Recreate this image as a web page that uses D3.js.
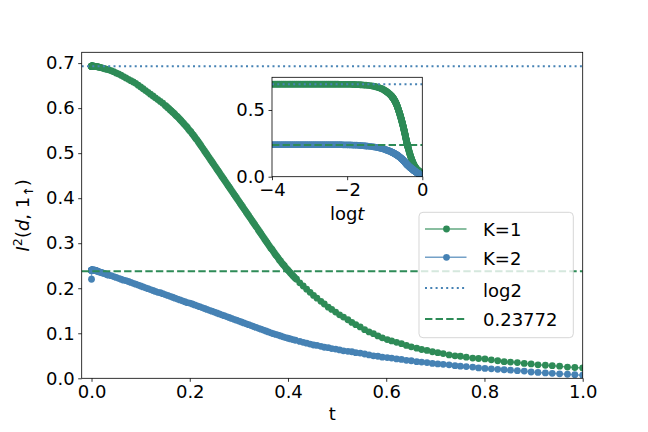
<!DOCTYPE html>
<html>
<head>
<meta charset="utf-8">
<script src="https://cdn.jsdelivr.net/npm/d3@7"></script>
<style>
body { margin: 0; background: #fff; }
svg { display: block; }
text { font-family: "DejaVu Sans", sans-serif; fill: #000; }
</style>
</head>
<body>
<div id="container"></div>
<script>
// early times (log spaced), shared by both series; t = 0 only shows in the main panel
const tHead = [
  0,
  0.0001, 0.000112, 0.000126, 0.000141, 0.000158, 0.000178, 0.0002, 0.000224, 0.000251, 0.000282,
  0.000316, 0.000355, 0.000398, 0.000447, 0.000501, 0.000562, 0.000631, 0.000708, 0.000794, 0.000891,
  0.001, 0.00112, 0.00126, 0.00141, 0.00158, 0.00178, 0.002, 0.00224, 0.00251, 0.00282,
  0.00316, 0.00355, 0.00398, 0.00447, 0.005, 0.00562, 0.00631, 0.00708, 0.00794, 0.00891,
  0.01, 0.0112, 0.0126, 0.0141, 0.0158, 0.0178, 0.02, 0.0224, 0.0251, 0.0282,
  0.0316
];
const k1Head = [
  0.693,
  0.693, 0.693, 0.693, 0.693, 0.693, 0.693, 0.693, 0.693, 0.693, 0.693,
  0.693, 0.693, 0.693, 0.693, 0.693, 0.693, 0.693, 0.693, 0.693, 0.693,
  0.693, 0.693, 0.693, 0.693, 0.693, 0.693, 0.693, 0.693, 0.693, 0.693,
  0.693, 0.693, 0.693, 0.693, 0.693, 0.693, 0.692, 0.692, 0.692, 0.692,
  0.692, 0.692, 0.692, 0.691, 0.691, 0.690, 0.690, 0.689, 0.688, 0.687,
  0.686
];
const k2Head = [
  0.220,
  0.240, 0.240, 0.240, 0.240, 0.240, 0.240, 0.240, 0.240, 0.240, 0.240,
  0.240, 0.240, 0.240, 0.240, 0.240, 0.240, 0.240, 0.240, 0.240, 0.240,
  0.240, 0.240, 0.240, 0.240, 0.240, 0.240, 0.240, 0.240, 0.240, 0.240,
  0.240, 0.240, 0.240, 0.240, 0.240, 0.240, 0.240, 0.240, 0.239, 0.239,
  0.239, 0.238, 0.238, 0.237, 0.236, 0.236, 0.235, 0.234, 0.233, 0.232,
  0.230
];

// K=1 middle section
const tK1Mid = [
  0.035, 0.040, 0.045, 0.050,
  0.055, 0.060, 0.065, 0.070, 0.075, 0.080, 0.085, 0.090, 0.095, 0.100,
  0.105, 0.110, 0.115, 0.120, 0.125, 0.130, 0.135, 0.140, 0.145, 0.150,
  0.1525, 0.155, 0.1575, 0.16, 0.1625, 0.165, 0.1675, 0.17,
  0.1725, 0.175, 0.1775, 0.18, 0.1825, 0.185, 0.1875, 0.19,
  0.1925, 0.195, 0.1975, 0.20, 0.2025, 0.205, 0.2075, 0.21,
  0.2125, 0.215, 0.2175, 0.22, 0.2225, 0.225, 0.2275, 0.23,
  0.2325, 0.235, 0.2375, 0.24, 0.2425, 0.245, 0.2475, 0.25,
  0.2525, 0.255, 0.2575, 0.26, 0.2625, 0.265, 0.2675, 0.27,
  0.2725, 0.275, 0.2775, 0.28, 0.2825, 0.285, 0.2875, 0.29,
  0.2925, 0.295, 0.2975, 0.30, 0.3025, 0.305, 0.3075, 0.31,
  0.3125, 0.315, 0.3175, 0.32, 0.3225, 0.325, 0.3275, 0.33,
  0.3325, 0.335, 0.3375, 0.34, 0.3425, 0.345, 0.3475, 0.35,
  0.3525, 0.355, 0.3575, 0.36, 0.3625, 0.365, 0.3675, 0.37,
  0.3725, 0.375, 0.3775, 0.38, 0.3825, 0.385, 0.3875, 0.39,
  0.3925, 0.395, 0.3975, 0.40, 0.4025, 0.405, 0.4075, 0.41,
  0.4125, 0.415, 0.4175
];
const k1Mid = [
  0.685, 0.683, 0.681, 0.678,
  0.676, 0.673, 0.670, 0.667, 0.664, 0.661, 0.658, 0.655, 0.651, 0.647,
  0.643, 0.639, 0.635, 0.631, 0.627, 0.623, 0.619, 0.615, 0.611, 0.606,
  0.604, 0.601, 0.599, 0.596, 0.594, 0.591, 0.589, 0.586,
  0.583, 0.581, 0.578, 0.575, 0.572, 0.569, 0.566, 0.563,
  0.560, 0.557, 0.553, 0.550, 0.547, 0.543, 0.540, 0.536,
  0.532, 0.529, 0.525, 0.521, 0.517, 0.513, 0.509, 0.505,
  0.501, 0.497, 0.493, 0.489, 0.485, 0.481, 0.477, 0.473,
  0.469, 0.465, 0.461, 0.457, 0.453, 0.449, 0.445, 0.441,
  0.437, 0.433, 0.429, 0.425, 0.421, 0.417, 0.413, 0.409,
  0.405, 0.401, 0.397, 0.393, 0.389, 0.385, 0.381, 0.377,
  0.373, 0.369, 0.365, 0.361, 0.357, 0.353, 0.349, 0.345,
  0.341, 0.337, 0.333, 0.329, 0.325, 0.321, 0.317, 0.313,
  0.309, 0.305, 0.301, 0.297, 0.293, 0.289, 0.286, 0.282,
  0.278, 0.274, 0.271, 0.267, 0.263, 0.260, 0.256, 0.253,
  0.250, 0.246, 0.243, 0.240, 0.237, 0.234, 0.231, 0.228,
  0.225, 0.222, 0.220
];

// K=2 middle section
const tK2Mid = [
  0.035, 0.040, 0.045, 0.050,
  0.055, 0.060, 0.065, 0.070, 0.075, 0.080, 0.085, 0.090, 0.095, 0.100,
  0.105, 0.110, 0.115, 0.120, 0.125, 0.130, 0.135, 0.140, 0.145, 0.150,
  0.155, 0.160, 0.165, 0.170, 0.175, 0.180, 0.185, 0.190, 0.195, 0.200,
  0.205, 0.210, 0.215, 0.220, 0.225, 0.230, 0.235, 0.240, 0.245, 0.250,
  0.255, 0.260, 0.265, 0.270, 0.275, 0.280, 0.285, 0.290, 0.295, 0.300,
  0.305, 0.310, 0.315, 0.320, 0.325, 0.330, 0.335, 0.340, 0.345, 0.350,
  0.355, 0.360, 0.365, 0.370, 0.375, 0.380, 0.385, 0.390, 0.395, 0.400,
  0.405, 0.410, 0.415
];
const k2Mid = [
  0.229, 0.228, 0.226, 0.224,
  0.222, 0.220, 0.218, 0.217, 0.215, 0.213, 0.211, 0.209, 0.207, 0.205,
  0.203, 0.201, 0.199, 0.197, 0.195, 0.193, 0.191, 0.190, 0.188, 0.186,
  0.184, 0.182, 0.180, 0.178, 0.176, 0.174, 0.172, 0.170, 0.168, 0.167,
  0.165, 0.163, 0.161, 0.159, 0.157, 0.155, 0.153, 0.151, 0.149, 0.147,
  0.145, 0.143, 0.141, 0.139, 0.137, 0.135, 0.133, 0.131, 0.129, 0.127,
  0.125, 0.123, 0.121, 0.119, 0.117, 0.115, 0.113, 0.111, 0.109, 0.107,
  0.105, 0.103, 0.101, 0.099, 0.0975, 0.096, 0.094, 0.092, 0.0905, 0.089,
  0.0875, 0.086, 0.0845
];

// late times (log spaced), shared
const tTail = [
  0.424, 0.431, 0.438, 0.445, 0.452, 0.459, 0.467, 0.474, 0.482, 0.489,
  0.497, 0.505, 0.513, 0.522, 0.530, 0.538, 0.547, 0.556, 0.565, 0.574,
  0.583, 0.592, 0.602, 0.611, 0.621, 0.631, 0.641, 0.651, 0.662, 0.672,
  0.683, 0.694, 0.705, 0.716, 0.728, 0.740, 0.751, 0.763, 0.776, 0.788,
  0.801, 0.814, 0.827, 0.840, 0.853, 0.867, 0.881, 0.895, 0.909, 0.924,
  0.938, 0.953, 0.969, 0.984, 1.000
];
const k1Tail = [
  0.212, 0.205, 0.198, 0.191, 0.184, 0.178, 0.171, 0.165, 0.158, 0.153,
  0.147, 0.141, 0.136, 0.130, 0.124, 0.119, 0.114, 0.108, 0.103, 0.099,
  0.094, 0.090, 0.086, 0.083, 0.080, 0.077, 0.073, 0.070, 0.067, 0.064,
  0.062, 0.059, 0.057, 0.055, 0.052, 0.050, 0.049, 0.047, 0.045, 0.044,
  0.043, 0.041, 0.039, 0.037, 0.036, 0.035, 0.033, 0.032, 0.030, 0.029,
  0.028, 0.027, 0.025, 0.024, 0.023
];
const k2Tail = [
  0.082, 0.080, 0.078, 0.076, 0.074, 0.073, 0.071, 0.069, 0.068, 0.066,
  0.065, 0.063, 0.061, 0.060, 0.059, 0.057, 0.056, 0.054, 0.052, 0.050,
  0.049, 0.047, 0.046, 0.045, 0.043, 0.042, 0.040, 0.039, 0.037, 0.036,
  0.035, 0.033, 0.032, 0.031, 0.030, 0.028, 0.027, 0.026, 0.025, 0.023,
  0.022, 0.021, 0.020, 0.019, 0.018, 0.017, 0.016, 0.014, 0.013, 0.012,
  0.011, 0.010, 0.009, 0.008, 0.007
];

const log2Level = 0.6931;
const refLevel = 0.23772;

const xTicks = [0, 0.2, 0.4, 0.6, 0.8, 1.0];
const yTicks = [0, 0.1, 0.2, 0.3, 0.4, 0.5, 0.6, 0.7];
const insetXTicks = [1e-4, 1e-2, 1];
const insetYTicks = [0, 0.5];
const legendLabels = ['K=1', 'K=2', 'log2', '0.23772'];

const tK1 = tHead.concat(tK1Mid, tTail);
const vK1 = k1Head.concat(k1Mid, k1Tail);
const tK2 = tHead.concat(tK2Mid, tTail);
const vK2 = k2Head.concat(k2Mid, k2Tail);

const green = '#2e8b57';
const blue = '#4682b4';
const markerR = 3.4;

const svg = d3.select('#container').append('svg')
  .attr('width', 648)
  .attr('height', 432);

let clipCount = 0;

function drawPanel(box, x, y, series, xt, yt, fmtX, fmtY, keep) {
  const g = svg.append('g');
  const id = 'clip' + (clipCount++);

  g.append('clipPath').attr('id', id)
    .append('rect')
    .attr('x', box.left).attr('y', box.top)
    .attr('width', box.right - box.left).attr('height', box.bottom - box.top);

  g.append('rect')
    .attr('x', box.left).attr('y', box.top)
    .attr('width', box.right - box.left).attr('height', box.bottom - box.top)
    .attr('fill', '#fff');

  const plot = g.append('g').attr('clip-path', `url(#${id})`);
  const line = d3.line().x(d => x(d[0])).y(d => y(d[1]));

  series.forEach(s => {
    const pts = d3.zip(s.t, s.v).filter(keep);
    plot.append('path')
      .datum(pts)
      .attr('d', line)
      .attr('fill', 'none')
      .attr('stroke', s.color)
      .attr('stroke-opacity', 0.75)
      .attr('stroke-width', 1.5);
    plot.append('g').selectAll('circle')
      .data(pts).enter()
      .append('circle')
      .attr('cx', d => x(d[0]))
      .attr('cy', d => y(d[1]))
      .attr('r', markerR)
      .attr('fill', s.color);
  });

  plot.append('line')
    .attr('x1', box.left).attr('x2', box.right)
    .attr('y1', y(log2Level)).attr('y2', y(log2Level))
    .attr('stroke', blue).attr('stroke-width', 2)
    .attr('stroke-dasharray', '2,3.3');
  plot.append('line')
    .attr('x1', box.left).attr('x2', box.right)
    .attr('y1', y(refLevel)).attr('y2', y(refLevel))
    .attr('stroke', green).attr('stroke-width', 2)
    .attr('stroke-dasharray', '7.4,3.2');

  const ax = g.append('g')
    .attr('transform', `translate(0,${box.bottom})`)
    .call(d3.axisBottom(x).tickValues(xt).tickFormat(fmtX)
      .tickSize(3.5).tickPadding(3.5).tickSizeOuter(0));
  const ay = g.append('g')
    .attr('transform', `translate(${box.left},0)`)
    .call(d3.axisLeft(y).tickValues(yt).tickFormat(fmtY)
      .tickSize(3.5).tickPadding(3.5).tickSizeOuter(0));

  [ax, ay].forEach(a => {
    a.select('.domain').remove();
    a.selectAll('line').attr('stroke', '#000').attr('stroke-width', 0.8);
    a.selectAll('text')
      .attr('font-size', 18)
      .attr('font-family', '"DejaVu Sans", sans-serif')
      .attr('fill', '#000');
  });

  g.append('rect')
    .attr('x', box.left).attr('y', box.top)
    .attr('width', box.right - box.left).attr('height', box.bottom - box.top)
    .attr('fill', 'none').attr('stroke', '#000').attr('stroke-width', 0.8);

  return g;
}

// main panel
const mainBox = { left: 81.7, right: 582.7, top: 52.3, bottom: 378.3 };
const x = d3.scaleLinear().domain([-0.02, 1.0]).range([mainBox.left, mainBox.right]);
const y = d3.scaleLinear().domain([0, 0.724]).range([mainBox.bottom, mainBox.top]);

drawPanel(mainBox, x, y, [
  { t: tK1, v: vK1, color: green },
  { t: tK2, v: vK2, color: blue }
], xTicks, yTicks, d3.format('.1f'), d3.format('.1f'), () => true);

svg.append('text')
  .attr('x', (mainBox.left + mainBox.right) / 2)
  .attr('y', 420)
  .attr('text-anchor', 'middle')
  .attr('font-size', 18)
  .text('t');

const yLab = svg.append('text')
  .attr('transform', `translate(29,${(mainBox.top + mainBox.bottom) / 2}) rotate(-90)`)
  .attr('text-anchor', 'middle')
  .attr('font-size', 18);
yLab.append('tspan').attr('font-style', 'italic').text('I');
yLab.append('tspan').attr('font-size', 12.6).attr('dy', -7).text('2');
yLab.append('tspan').attr('dy', 7).text('(');
yLab.append('tspan').attr('font-style', 'italic').text('d');
yLab.append('tspan').text(', 1');
yLab.append('tspan').attr('font-size', 12.6).attr('dy', 4).text('\u2191');
yLab.append('tspan').attr('dy', -4).text(')');

// legend
const legend = svg.append('g');
legend.append('rect')
  .attr('x', 419).attr('y', 212.3)
  .attr('width', 154.3).attr('height', 125.4)
  .attr('rx', 4)
  .attr('fill', '#fff').attr('fill-opacity', 0.8)
  .attr('stroke', '#cccccc').attr('stroke-opacity', 0.8);

const rowMid = [229, 257.3, 288, 319];
const rowBase = [236, 264.7, 296.7, 326.3];
const legendStyle = [
  { color: green, dash: null, marker: true },
  { color: blue, dash: null, marker: true },
  { color: blue, dash: '2,3.3', marker: false },
  { color: green, dash: '7.4,3.2', marker: false }
];

legendLabels.forEach((label, i) => {
  const st = legendStyle[i];
  legend.append('line')
    .attr('x1', 425).attr('x2', 466.5)
    .attr('y1', rowMid[i]).attr('y2', rowMid[i])
    .attr('stroke', st.color)
    .attr('stroke-width', st.marker ? 1.5 : 2)
    .attr('stroke-opacity', st.marker ? 0.75 : 1)
    .attr('stroke-dasharray', st.dash);
  if (st.marker) {
    legend.append('circle')
      .attr('cx', 446.5).attr('cy', rowMid[i])
      .attr('r', markerR).attr('fill', st.color);
  }
  legend.append('text')
    .attr('x', 483).attr('y', rowBase[i])
    .attr('font-size', 18)
    .text(label);
});

// inset: same data on a log time axis, labelled by the exponent
const insetBox = { left: 272, right: 422.3, top: 77.3, bottom: 176.7 };
const ix = d3.scaleLog().domain([1e-4, 1]).range([insetBox.left, insetBox.right]);
const iy = d3.scaleLinear().domain([0, 0.745]).range([insetBox.bottom, insetBox.top]);

drawPanel(insetBox, ix, iy, [
  { t: tK1, v: vK1, color: green },
  { t: tK2, v: vK2, color: blue }
], insetXTicks, insetYTicks,
  d => d3.format('d')(Math.round(Math.log10(d))),
  d3.format('.1f'),
  d => d[0] > 0);

const iLab = svg.append('text')
  .attr('x', (insetBox.left + insetBox.right) / 2)
  .attr('y', 220)
  .attr('text-anchor', 'middle')
  .attr('font-size', 18);
iLab.append('tspan').text('log');
iLab.append('tspan').attr('font-style', 'italic').text('t');
</script>
</body>
</html>
